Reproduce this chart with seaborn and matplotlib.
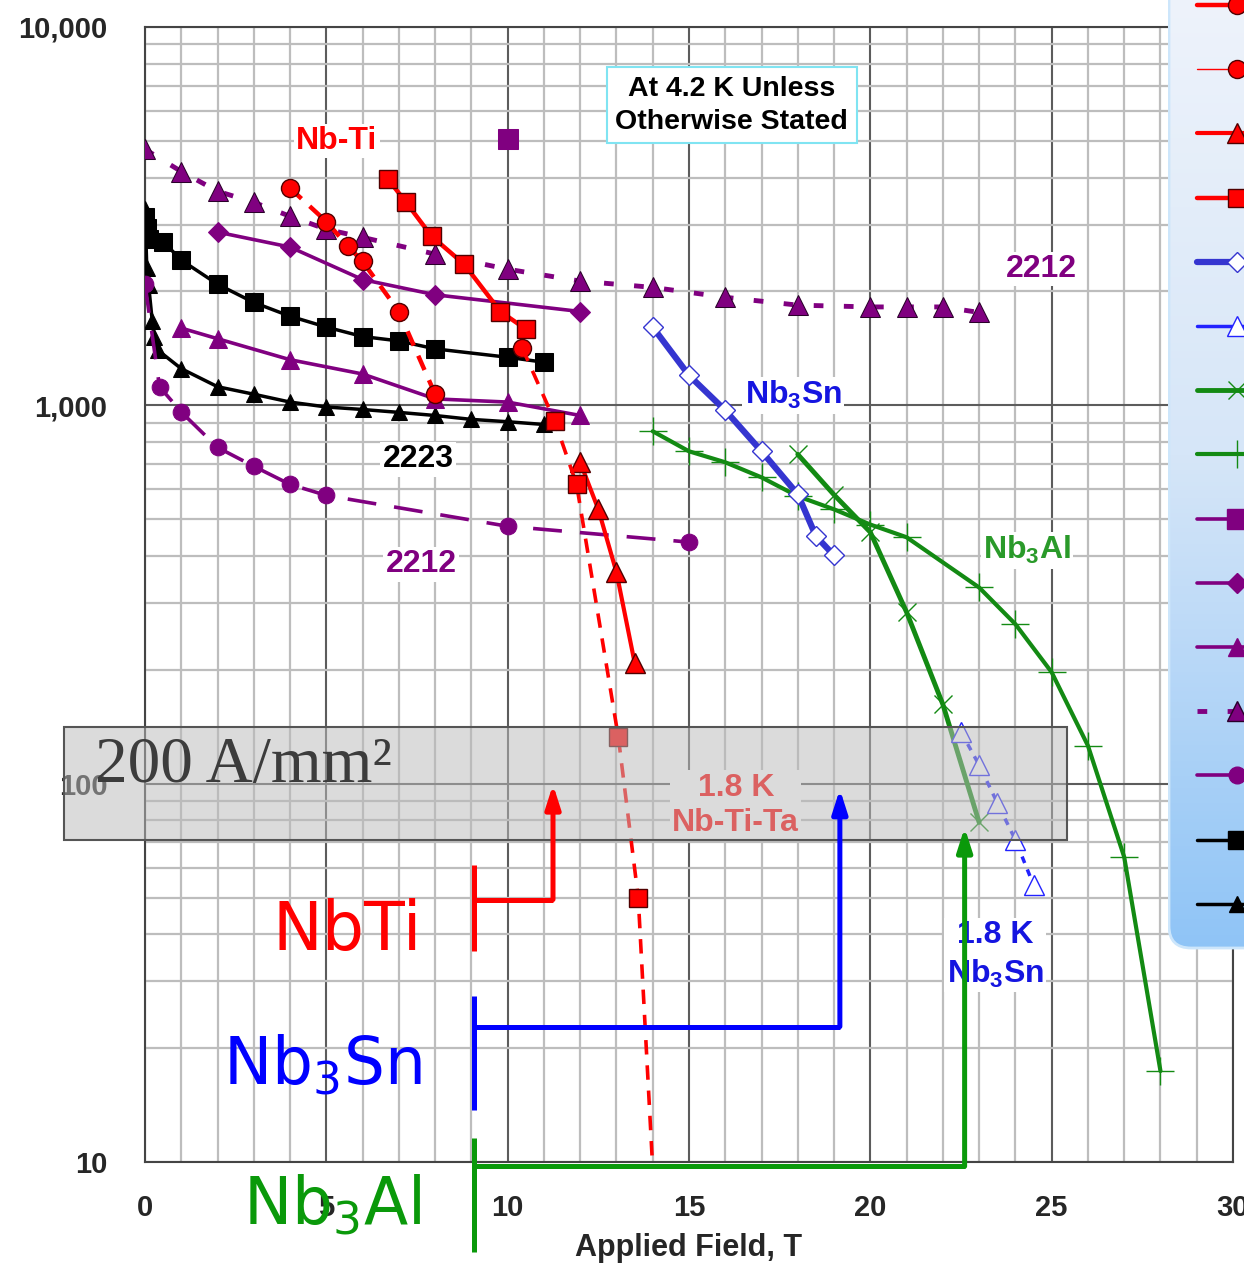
import numpy as np
import pandas as pd
import matplotlib
matplotlib.use("Agg")
import matplotlib.pyplot as plt
import seaborn as sns
from matplotlib.patches import Rectangle, FancyBboxPatch
from matplotlib.colors import LinearSegmentedColormap
from matplotlib.ticker import MultipleLocator, LogLocator, FuncFormatter, NullFormatter

sns.set_style("white")
plt.rcParams['font.family'] = ['Liberation Sans', 'DejaVu Sans']
plt.rcParams['font.weight'] = 'bold'
plt.rcParams['mathtext.default'] = 'regular'

# ---------------- data (field in T, Je in A/mm^2) ----------------
nbti_sq_B = [6.7, 7.2, 7.9, 8.8, 9.8, 10.5]
nbti_sq_J = [3960, 3440, 2800, 2360, 1770, 1590]
nbti_circ_B = [4, 5, 5.6, 6, 7, 8]
nbti_circ_J = [3750, 3060, 2630, 2400, 1770, 1070]
nbti18_circ_B = [10.4]
nbti18_circ_J = [1420]
nbtita_B = [10.4, 11.3, 11.9, 13.05, 13.6, 14.0]
nbtita_J = [1420, 907, 618, 133, 50, 9.6]
nbti_tri_B = [12.0, 12.5, 13.0, 13.5]
nbti_tri_J = [707, 531, 362, 209]
nb3sn_B = [14, 15, 16, 17, 18, 18.5, 19]
nb3sn_J = [1610, 1200, 970, 756, 582, 451, 401]
nb3sn18_B = [22.5, 23, 23.5, 24, 24.5]
nb3sn18_J = [137, 112, 89, 71, 54]
nb3al_x_B = [18, 19, 20, 21, 22, 23]
nb3al_x_J = [742, 580, 462, 284, 162, 79]
nb3al_p_B = [14, 15, 16, 17, 18, 19, 20, 21, 23, 24, 25, 26, 27, 28]
nb3al_p_J = [854, 756, 707, 645, 575, 531, 484, 448, 330, 264, 197, 126, 64, 17.4]
b2212_sq_B = [10]
b2212_sq_J = [5050]
b2212_dia_B = [2, 4, 6, 8, 12]
b2212_dia_J = [2870, 2620, 2150, 1960, 1770]
b2212_tri_B = [1, 2, 4, 6, 8, 10, 12]
b2212_tri_J = [1600, 1500, 1320, 1210, 1040, 1020, 940]
b2212_dtri_B = [0, 1, 2, 3, 4, 5, 6, 8, 10, 12, 14, 16, 18, 20, 21, 22, 23]
b2212_dtri_J = [4750, 4150, 3680, 3440, 3160, 2920, 2780, 2510, 2290, 2130, 2050,
                1930, 1840, 1820, 1820, 1820, 1760]
b2212_circ_B = [0, 0.4, 1, 2, 3, 4, 5, 10, 15]
b2212_circ_J = [2090, 1120, 960, 774, 690, 618, 578, 479, 435]
b2223_sq_B = [0, 0.05, 0.1, 0.5, 1, 2, 3, 4, 5, 6, 7, 8, 10, 11]
b2223_sq_J = [3150, 2950, 2750, 2710, 2420, 2090, 1870, 1720, 1610, 1520, 1480,
              1410, 1340, 1300]
b2223_tri_B = [0, 0.05, 0.1, 0.2, 0.25, 0.35, 1, 2, 3, 4, 5, 6, 7, 8, 9, 10, 11]
b2223_tri_J = [3300, 2300, 2080, 1670, 1520, 1400, 1250, 1120, 1070, 1020, 990,
               975, 958, 940, 918, 905, 890]

xticks = [0, 5, 10, 15, 20, 25, 30]

# ---------------- styles ----------------
RED, PUR, BLK = '#ff0000', '#800080', '#000000'
BLUE1, BLUE2, GRN = '#3535d0', '#2222ff', '#138a13'
styles = {
    'b2223_tri': dict(color=BLK, marker='^', markersize=12, markeredgecolor=BLK, linewidth=2.5, linestyle='-'),
    'b2223_sq': dict(color=BLK, marker='s', markersize=12.5, markeredgecolor=BLK, linewidth=2.5, linestyle='-'),
    'b2212_circ': dict(color=PUR, marker='o', markersize=12, markeredgecolor=PUR, linewidth=2.6, linestyle=(0, (8, 5))),
    'b2212_dtri': dict(color=PUR, marker='^', markersize=14, markeredgecolor='#2a002a', linewidth=3.5, linestyle=(0, (2, 4.2))),
    'b2212_tri': dict(color=PUR, marker='^', markersize=13, markeredgecolor=PUR, linewidth=2.6, linestyle='-'),
    'b2212_dia': dict(color=PUR, marker='D', markersize=10, markeredgecolor=PUR, linewidth=2.6, linestyle='-'),
    'b2212_sq': dict(color=PUR, marker='s', markersize=14, markeredgecolor=PUR, linewidth=2.6, linestyle='-'),
    'nb3al_p': dict(color=GRN, marker='+', markersize=20, markeredgewidth=1.0, markeredgecolor=GRN, linewidth=3.0, linestyle='-'),
    'nb3al_x': dict(color=GRN, marker='x', markersize=13, markeredgewidth=1.0, markeredgecolor=GRN, linewidth=3.5, linestyle='-'),
    'nb3sn18': dict(color=BLUE2, marker='^', markersize=14, markerfacecolor='white', markeredgecolor=BLUE2, markeredgewidth=1.0, linewidth=2.5, linestyle=(0, (2, 2))),
    'nb3sn': dict(color=BLUE1, marker='D', markersize=10, markerfacecolor='white', markeredgecolor=BLUE1, markeredgewidth=1.0, linewidth=4.5, linestyle='-'),
    'nbti_tri': dict(color=RED, marker='^', markersize=14, markeredgecolor='#500000', markeredgewidth=1.0, linewidth=3.0, linestyle='-'),
    'nbti18_circ': dict(color=RED, marker='o', markersize=13, markeredgecolor='#500000', markeredgewidth=1.0, linewidth=1.0, linestyle='-'),
    'nbtita': dict(color=RED, marker='s', markersize=12.5, markeredgecolor='#500000', markeredgewidth=1.0, linewidth=2.6, linestyle=(0, (4, 3)), markevery=[1, 2, 3, 4]),
    'nbti_circ': dict(color=RED, marker='o', markersize=13, markeredgecolor='#500000', markeredgewidth=1.0, linewidth=3.2, linestyle=(0, (3.5, 2.5))),
    'nbti_sq': dict(color=RED, marker='s', markersize=13, markeredgecolor='#500000', markeredgewidth=1.0, linewidth=3.2, linestyle='-'),
}
series = [
    ('b2223_tri', b2223_tri_B, b2223_tri_J),
    ('b2223_sq', b2223_sq_B, b2223_sq_J),
    ('b2212_circ', b2212_circ_B, b2212_circ_J),
    ('b2212_dtri', b2212_dtri_B, b2212_dtri_J),
    ('b2212_tri', b2212_tri_B, b2212_tri_J),
    ('b2212_dia', b2212_dia_B, b2212_dia_J),
    ('b2212_sq', b2212_sq_B, b2212_sq_J),
    ('nb3al_p', nb3al_p_B, nb3al_p_J),
    ('nb3al_x', nb3al_x_B, nb3al_x_J),
    ('nb3sn18', nb3sn18_B, nb3sn18_J),
    ('nb3sn', nb3sn_B, nb3sn_J),
    ('nbti_tri', nbti_tri_B, nbti_tri_J),
    ('nbti18_circ', nbti18_circ_B, nbti18_circ_J),
    ('nbtita', nbtita_B, nbtita_J),
    ('nbti_circ', nbti_circ_B, nbti_circ_J),
    ('nbti_sq', nbti_sq_B, nbti_sq_J),
]

# ---------------- figure ----------------
W, H = 1244, 1271
fig = plt.figure(figsize=(W / 100, H / 100), dpi=100)
L, R, T, Bt = 145, 1233, 27, 1162
ax = fig.add_axes([L / W, 1 - Bt / H, (R - L) / W, (Bt - T) / H])
ax.set_yscale('log')
ax.set_xlim(0, 30)
ax.set_ylim(10, 10000)

for i, (key, xb, yj) in enumerate(series):
    df = pd.DataFrame({'B': xb, 'J': yj})
    sns.lineplot(data=df, x='B', y='J', ax=ax, estimator=None, sort=False,
                 zorder=3 + i * 0.01, **styles[key])

ax.set_xlim(0, 30)
ax.set_ylim(10, 10000)
ax.xaxis.set_major_locator(MultipleLocator(5))
ax.xaxis.set_minor_locator(MultipleLocator(1))
ax.set_xticks(xticks)
ax.yaxis.set_major_locator(LogLocator(base=10))
ax.yaxis.set_minor_locator(LogLocator(base=10, subs=np.arange(2, 10)))
ax.yaxis.set_minor_formatter(NullFormatter())
ax.yaxis.set_major_formatter(FuncFormatter(lambda v, p: f"{int(round(v)):,}"))
ax.set_axisbelow(True)
ax.grid(which='minor', color='#bdbdbd', linewidth=1.6)
ax.grid(which='major', color='#5c5c5c', linewidth=1.5)
ax.tick_params(which='both', direction='out', color='#333333', width=1.3)
ax.tick_params(axis='y', which='both', length=7, pad=20, labelsize=21)
ax.tick_params(axis='x', which='both', length=7, pad=16, labelsize=21)
for s in ax.spines.values():
    s.set_color('#444444')
    s.set_linewidth(1.5)
ax.set_xlabel('Applied Field, T', fontsize=22, fontweight='bold', labelpad=8)
ax.set_ylabel('')

# ---------------- in-plot labels ----------------
wb = dict(facecolor='white', edgecolor='none', pad=1.5)
ax.text(5.29, 4990, 'Nb-Ti', color=RED, fontsize=23, ha='center', va='center', bbox=wb, zorder=4)
ax.text(16.18, 6210, 'At 4.2 K Unless\nOtherwise Stated', color='black', fontsize=20.5,
        ha='center', va='center', linespacing=1.35, zorder=4,
        bbox=dict(boxstyle='square,pad=0.3', facecolor='white', edgecolor='#80e4f2', linewidth=1.5))
ax.text(24.73, 2290, '2212', color=PUR, fontsize=23, ha='center', va='center', bbox=wb, zorder=4)
ax.text(17.87, 1063, 'Nb$_3$Sn', color='#1515e0', fontsize=23, ha='center', va='center', bbox=wb, zorder=4)
ax.text(7.53, 720, '2223', color='black', fontsize=23, ha='center', va='center', bbox=wb, zorder=4)
ax.text(7.61, 380, '2212', color=PUR, fontsize=23, ha='center', va='center', bbox=wb, zorder=4)
ax.text(24.32, 414, 'Nb$_3$Al', color='#2a9a2a', fontsize=23, ha='center', va='center', bbox=wb, zorder=4)
ax.text(16.29, 87.6, '1.8 K\nNb-Ti-Ta', color=RED, fontsize=23, ha='center', va='center',
        linespacing=1.25, bbox=wb, zorder=4)
ax.text(23.44, 35.2, '1.8 K\nNb$_3$Sn', color='#1515e0', fontsize=23, ha='center', va='center',
        linespacing=1.3, bbox=wb, zorder=4)

# ---------------- grey 200 A/mm2 band ----------------
ax.add_patch(Rectangle((-2.233, 70.8), 27.65, 70.1, facecolor='#bbbbbb', alpha=0.52,
                       edgecolor='none', clip_on=False, zorder=10))
ax.add_patch(Rectangle((-2.233, 70.8), 27.65, 70.1, facecolor='none',
                       edgecolor='#555555', linewidth=1.5, clip_on=False, zorder=10.5))
ax.text(-1.38, 101, '200 A/mm²', fontsize=47, family='Liberation Serif', fontweight='normal',
        color='#3c3c3c', ha='left', va='baseline', zorder=11)

# ---------------- arrows (field where Je reaches band) ----------------
base_B = 9.07
arrow_specs = [
    (RED, 11.25, 49.4, 99.5, 61.0, 36.1),
    ('#0000ff', 19.16, 22.8, 96.7, 27.4, 13.7),
    ('#0a990a', 22.6, 9.74, 76.6, 11.6, 5.8),
]
for col, tipB, hJ, tipJ, bar_top, bar_bot in arrow_specs:
    ax.plot([base_B, base_B], [bar_top, bar_bot], color=col, lw=3.6, clip_on=False,
            solid_capstyle='butt', zorder=12)
    ax.plot([base_B, tipB], [hJ, hJ], color=col, lw=3.6, clip_on=False,
            solid_capstyle='butt', zorder=12)
    ax.annotate('', xy=(tipB, tipJ), xytext=(tipB, hJ), annotation_clip=False, zorder=12,
                arrowprops=dict(arrowstyle='-|>,head_length=1.0,head_width=0.32', color=col,
                                lw=3.6, shrinkA=0, shrinkB=0, mutation_scale=14))

# ---------------- big material labels ----------------
fig.text(422 / W, 1 - 950 / H, 'NbTi', ha='right', va='baseline', fontsize=48,
         color='#ff0000', family='DejaVu Sans', fontweight='normal')
fig.text(422 / W, 1 - 1085 / H, 'Nb$_3$Sn', ha='right', va='baseline', fontsize=46.5,
         color='#0000ff', family='DejaVu Sans', fontweight='normal')
fig.text(422 / W, 1 - 1225 / H, 'Nb$_3$Al', ha='right', va='baseline', fontsize=46.5,
         color='#0a990a', family='DejaVu Sans', fontweight='normal')

# ---------------- legend panel (cut off at the right edge) ----------------
px0, px1, py0, py1 = 1168, 1330, -40, 950
lax = fig.add_axes([px0 / W, 1 - py1 / H, (px1 - px0) / W, (py1 - py0) / H])
lax.set_xlim(px0, px1)
lax.set_ylim(py1, py0)
lax.axis('off')
cmap = LinearSegmentedColormap.from_list('lg', ['#f0f4fb', '#d6e6f8', '#8fc4f6'])
grad = np.linspace(0, 1, 256).reshape(-1, 1)
im = lax.imshow(grad, extent=(px0, px1, py1, py0), cmap=cmap, aspect='auto',
                origin='upper', zorder=0)
panel = FancyBboxPatch((px0 + 1, py0 - 60), px1 - px0 + 60, py1 - py0 + 58,
                       boxstyle='round,pad=0,rounding_size=22', facecolor='none',
                       edgecolor='#cde6fb', linewidth=2, zorder=1)
lax.add_patch(panel)
im.set_clip_path(panel)
legend_order = ['nbti_circ', 'nbti18_circ', 'nbti_tri', 'nbti_sq', 'nb3sn', 'nb3sn18',
                'nb3al_x', 'nb3al_p', 'b2212_sq', 'b2212_dia', 'b2212_tri', 'b2212_dtri',
                'b2212_circ', 'b2223_sq', 'b2223_tri']
for i, key in enumerate(legend_order):
    st = dict(styles[key])
    st.pop('markevery', None)
    if key != 'b2212_dtri':
        st['linestyle'] = '-'
    y = 5 + 64.2 * i
    lax.plot([1197, 1237, 1300], [y, y, y], markevery=[1], zorder=2, **st)

fig.savefig('out.png', dpi=100)
